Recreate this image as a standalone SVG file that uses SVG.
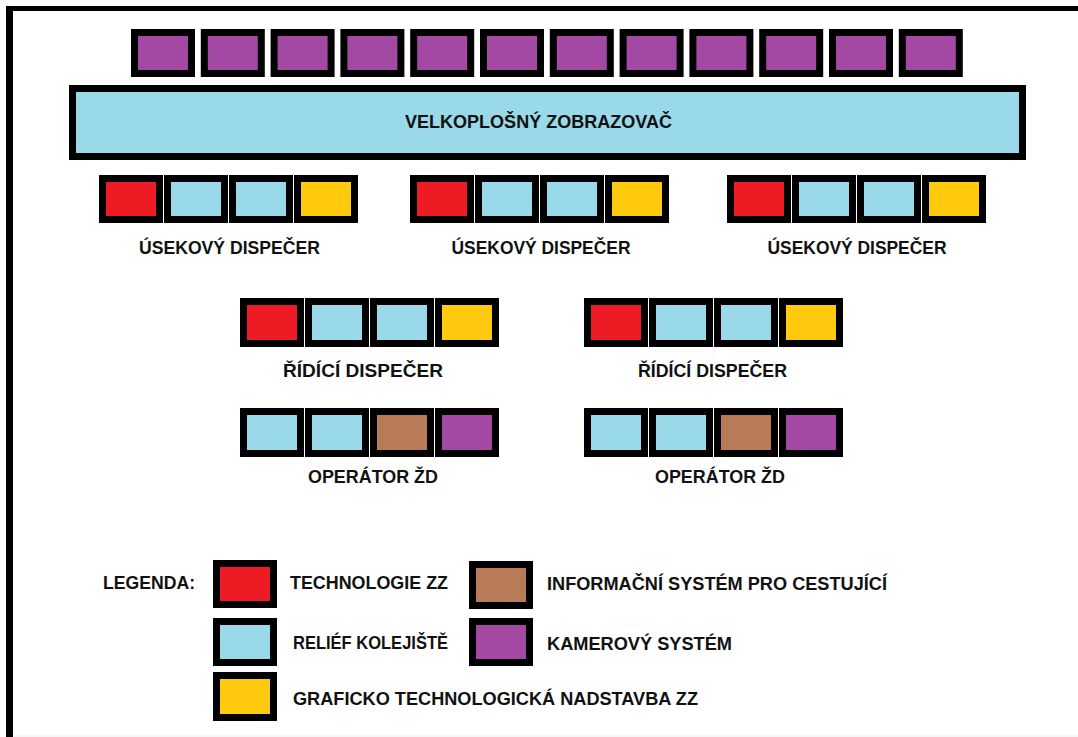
<svg xmlns="http://www.w3.org/2000/svg" width="1078" height="737" viewBox="0 0 1078 737">
  <style>
    .tile { stroke: #000; stroke-width: 7; }
    .tz { fill: #ED1C24; }
    .rk { fill: #99D9EA; }
    .gt { fill: #FFC90E; }
    .is { fill: #B97A57; }
    .ks { fill: #A349A4; }
    .lbl { font-family: "Liberation Sans", Arial, sans-serif; font-weight: bold; font-size: 18px; fill: #111; }
  </style>
  <defs>
    <!-- one 64x48 tile, black 7px frame drawn inside the outer edge -->
    <rect id="tile" x="3.5" y="3.5" width="57" height="41" class="tile"/>
    <rect id="tileT" x="3.5" y="3.5" width="57" height="42" class="tile"/>
  </defs>

  <rect width="1078" height="737" fill="#fff"/>

  <!-- page frame -->
  <g id="frame">
    <rect x="6" y="6" width="1072" height="5" fill="#000"/>
    <rect x="6" y="6" width="7" height="731" fill="#000"/>
    <line x1="13" y1="736" x2="1078" y2="736" stroke="#ececec" stroke-width="1"/>
  </g>

  <!-- camera monitors above the wall display -->
  <g id="camera-row">
    <use href="#tile" x="131" y="29" class="ks"/>
    <use href="#tile" x="200.8" y="29" class="ks"/>
    <use href="#tile" x="270.6" y="29" class="ks"/>
    <use href="#tile" x="340.4" y="29" class="ks"/>
    <use href="#tile" x="410.2" y="29" class="ks"/>
    <use href="#tile" x="480" y="29" class="ks"/>
    <use href="#tile" x="549.8" y="29" class="ks"/>
    <use href="#tile" x="619.6" y="29" class="ks"/>
    <use href="#tile" x="689.4" y="29" class="ks"/>
    <use href="#tile" x="759.2" y="29" class="ks"/>
    <use href="#tile" x="829" y="29" class="ks"/>
    <use href="#tile" x="898.8" y="29" class="ks"/>
  </g>

  <!-- wall display -->
  <g id="wall-display">
    <rect x="72.5" y="88.5" width="950" height="68" class="tile rk"/>
    <text class="lbl" x="538.5" y="128" text-anchor="middle" textLength="267" lengthAdjust="spacingAndGlyphs">VELKOPLOŠNÝ ZOBRAZOVAČ</text>
  </g>

  <!-- section dispatchers -->
  <g id="usekovy-1">
    <use href="#tile" x="99" y="175" class="tz"/>
    <use href="#tile" x="164" y="175" class="rk"/>
    <use href="#tile" x="229" y="175" class="rk"/>
    <use href="#tile" x="294" y="175" class="gt"/>
    <text class="lbl" x="229.5" y="254" text-anchor="middle" textLength="181" lengthAdjust="spacingAndGlyphs">ÚSEKOVÝ DISPEČER</text>
  </g>
  <g id="usekovy-2">
    <use href="#tile" x="410" y="175" class="tz"/>
    <use href="#tile" x="475" y="175" class="rk"/>
    <use href="#tile" x="540" y="175" class="rk"/>
    <use href="#tile" x="605" y="175" class="gt"/>
    <text class="lbl" x="541" y="254" text-anchor="middle" textLength="179" lengthAdjust="spacingAndGlyphs">ÚSEKOVÝ DISPEČER</text>
  </g>
  <g id="usekovy-3">
    <use href="#tile" x="727" y="175" class="tz"/>
    <use href="#tile" x="792" y="175" class="rk"/>
    <use href="#tile" x="857" y="175" class="rk"/>
    <use href="#tile" x="922" y="175" class="gt"/>
    <text class="lbl" x="857" y="254" text-anchor="middle" textLength="179" lengthAdjust="spacingAndGlyphs">ÚSEKOVÝ DISPEČER</text>
  </g>

  <!-- control dispatchers -->
  <g id="ridici-1">
    <use href="#tileT" x="240" y="298" class="tz"/>
    <use href="#tileT" x="305" y="298" class="rk"/>
    <use href="#tileT" x="370" y="298" class="rk"/>
    <use href="#tileT" x="435" y="298" class="gt"/>
    <text class="lbl" x="363" y="377" text-anchor="middle" textLength="160" lengthAdjust="spacingAndGlyphs">ŘÍDÍCÍ DISPEČER</text>
  </g>
  <g id="ridici-2">
    <use href="#tileT" x="584" y="298" class="tz"/>
    <use href="#tileT" x="649" y="298" class="rk"/>
    <use href="#tileT" x="714" y="298" class="rk"/>
    <use href="#tileT" x="779" y="298" class="gt"/>
    <text class="lbl" x="712.5" y="377" text-anchor="middle" textLength="149" lengthAdjust="spacingAndGlyphs">ŘÍDÍCÍ DISPEČER</text>
  </g>

  <!-- railway operators -->
  <g id="operator-1">
    <use href="#tileT" x="240" y="408" class="rk"/>
    <use href="#tileT" x="305" y="408" class="rk"/>
    <use href="#tileT" x="370" y="408" class="is"/>
    <use href="#tileT" x="435" y="408" class="ks"/>
    <text class="lbl" x="373" y="483" text-anchor="middle" textLength="130" lengthAdjust="spacingAndGlyphs">OPERÁTOR ŽD</text>
  </g>
  <g id="operator-2">
    <use href="#tileT" x="584" y="408" class="rk"/>
    <use href="#tileT" x="649" y="408" class="rk"/>
    <use href="#tileT" x="714" y="408" class="is"/>
    <use href="#tileT" x="779" y="408" class="ks"/>
    <text class="lbl" x="720" y="483" text-anchor="middle" textLength="130" lengthAdjust="spacingAndGlyphs">OPERÁTOR ŽD</text>
  </g>

  <!-- legend -->
  <g id="legend">
    <text class="lbl" x="103" y="589" textLength="92" lengthAdjust="spacingAndGlyphs">LEGENDA:</text>
    <use href="#tile" x="213" y="560" class="tz"/>
    <text class="lbl" x="290" y="589" textLength="158" lengthAdjust="spacingAndGlyphs">TECHNOLOGIE ZZ</text>
    <use href="#tile" x="213" y="618" class="rk"/>
    <text class="lbl" x="293" y="649" textLength="155" lengthAdjust="spacingAndGlyphs">RELIÉF KOLEJIŠTĚ</text>
    <use href="#tileT" x="213" y="672" class="gt"/>
    <text class="lbl" x="293" y="705" textLength="405" lengthAdjust="spacingAndGlyphs">GRAFICKO TECHNOLOGICKÁ NADSTAVBA ZZ</text>
    <use href="#tile" x="469" y="561" class="is"/>
    <text class="lbl" x="547" y="590" textLength="340" lengthAdjust="spacingAndGlyphs">INFORMAČNÍ SYSTÉM PRO CESTUJÍCÍ</text>
    <use href="#tile" x="469" y="618" class="ks"/>
    <text class="lbl" x="547" y="650" textLength="185" lengthAdjust="spacingAndGlyphs">KAMEROVÝ SYSTÉM</text>
  </g>
</svg>
